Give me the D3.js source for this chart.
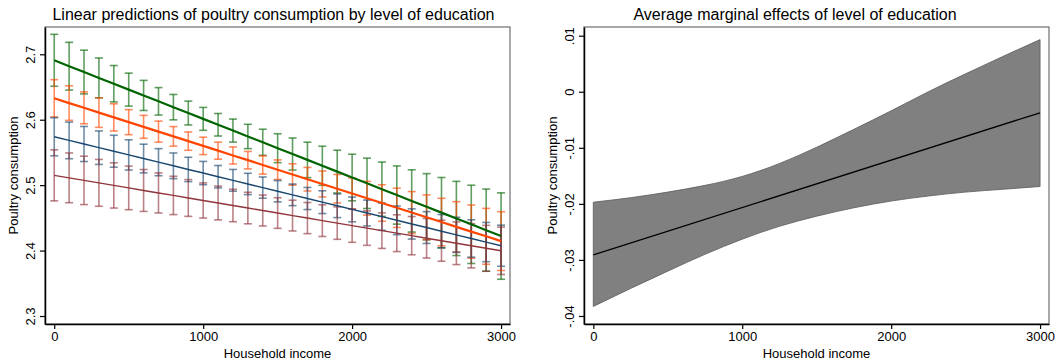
<!DOCTYPE html>
<html>
<head>
<meta charset="utf-8">
<script src="https://cdn.jsdelivr.net/npm/d3@7"></script>
<style>
  body { margin: 0; background: #fff; }
  text { font-family: "Liberation Sans", Arial, Helvetica, sans-serif; fill: #000; }
</style>
</head>
<body>
<div id="chart"></div>
<script>
// x values (household income) where margins were evaluated
let income = [0, 100, 200, 300, 400, 500, 600, 700, 800, 900, 1000, 1100, 1200, 1300, 1400, 1500,
  1600, 1700, 1800, 1900, 2000, 2100, 2200, 2300, 2400, 2500, 2600, 2700, 2800, 2900, 3000];

// linear predictions per education level
let predGreen = [2.6908, 2.6818, 2.6729, 2.6639, 2.6550, 2.6460, 2.6371, 2.6281, 2.6192, 2.6102, 2.6013,
  2.5923, 2.5834, 2.5744, 2.5655, 2.5565, 2.5476, 2.5386, 2.5296, 2.5207, 2.5117, 2.5028, 2.4938,
  2.4849, 2.4759, 2.4670, 2.4580, 2.4491, 2.4401, 2.4312, 2.4222];
let predOrange = [2.6327, 2.6254, 2.6182, 2.6109, 2.6036, 2.5963, 2.5891, 2.5818, 2.5745, 2.5673, 2.5600,
  2.5527, 2.5454, 2.5382, 2.5309, 2.5236, 2.5163, 2.5091, 2.5018, 2.4945, 2.4872, 2.4800, 2.4727,
  2.4654, 2.4581, 2.4509, 2.4436, 2.4363, 2.4290, 2.4218, 2.4145];
let predBlue = [2.5740, 2.5684, 2.5629, 2.5573, 2.5518, 2.5462, 2.5407, 2.5351, 2.5296, 2.5240, 2.5185,
  2.5129, 2.5074, 2.5018, 2.4963, 2.4907, 2.4852, 2.4796, 2.4740, 2.4685, 2.4629, 2.4574, 2.4518,
  2.4463, 2.4407, 2.4352, 2.4296, 2.4241, 2.4185, 2.4130, 2.4074];
let predRed = [2.5150, 2.5112, 2.5073, 2.5035, 2.4996, 2.4958, 2.4919, 2.4881, 2.4843, 2.4804, 2.4766,
  2.4727, 2.4689, 2.4650, 2.4612, 2.4574, 2.4535, 2.4497, 2.4458, 2.4420, 2.4381, 2.4343, 2.4305,
  2.4266, 2.4228, 2.4189, 2.4151, 2.4112, 2.4074, 2.4035, 2.3997];

// half width of the 95% CI at each point
let ciGreen = [0.0397, 0.0365, 0.0334, 0.0305, 0.0278, 0.0252, 0.0230, 0.0210, 0.0194, 0.0182, 0.0175,
  0.0172, 0.0176, 0.0186, 0.0200, 0.0221, 0.0245, 0.0271, 0.0299, 0.0327, 0.0356, 0.0385, 0.0415,
  0.0445, 0.0476, 0.0506, 0.0537, 0.0567, 0.0598, 0.0628, 0.0660];
let ciOrange = [0.0285, 0.0264, 0.0244, 0.0226, 0.0208, 0.0191, 0.0175, 0.0161, 0.0150, 0.0140, 0.0133,
  0.0130, 0.0130, 0.0133, 0.0140, 0.0150, 0.0164, 0.0180, 0.0198, 0.0218, 0.0238, 0.0258, 0.0279,
  0.0300, 0.0321, 0.0342, 0.0363, 0.0385, 0.0406, 0.0427, 0.0449];
let ciBlue = [0.0291, 0.0280, 0.0268, 0.0256, 0.0244, 0.0231, 0.0219, 0.0207, 0.0196, 0.0186, 0.0178,
  0.0171, 0.0166, 0.0163, 0.0162, 0.0163, 0.0165, 0.0169, 0.0174, 0.0181, 0.0189, 0.0198, 0.0208,
  0.0219, 0.0231, 0.0243, 0.0255, 0.0268, 0.0286, 0.0300, 0.0314];
let ciRed = [0.0390, 0.0380, 0.0370, 0.0358, 0.0346, 0.0333, 0.0320, 0.0306, 0.0293, 0.0281, 0.0269,
  0.0258, 0.0248, 0.0241, 0.0236, 0.0234, 0.0235, 0.0238, 0.0242, 0.0248, 0.0255, 0.0263, 0.0272,
  0.0281, 0.0292, 0.0303, 0.0314, 0.0326, 0.0338, 0.0350, 0.0362];

// average marginal effect (right panel)
let ameIncome = [0, 250, 500, 750, 1000, 1250, 1500, 1750, 2000, 2250, 2500, 2750, 3000];
let ameUpper = [-0.0197, -0.0189, -0.0179, -0.0167, -0.0151, -0.0128, -0.0099, -0.0067, -0.0034, 0.0000, 0.0032, 0.0063, 0.0093];
let ameLower = [-0.0383, -0.0351, -0.0320, -0.0290, -0.0263, -0.0240, -0.0222, -0.0207, -0.0195, -0.0186, -0.0179, -0.0174, -0.0169];
let ameLineX = [0, 3000];
let ameLineY = [-0.0291, -0.00375];

// ticks
let xTicks = [0, 1000, 2000, 3000];
let leftYTicks = [2.3, 2.4, 2.5, 2.6, 2.7];
let leftYLabels = ["2.3", "2.4", "2.5", "2.6", "2.7"];
let rightYTicks = [-0.04, -0.03, -0.02, -0.01, 0, 0.01];
let rightYLabels = ["-.04", "-.03", "-.02", "-.01", "0", ".01"];

let svg = d3.select("#chart").append("svg")
  .attr("width", 1058)
  .attr("height", 362);

svg.append("rect").attr("width", 1058).attr("height", 362).attr("fill", "#fff");

// draws frame, axes and titles for one panel
function panel(x, y, yTicks, yLabels, title, titleX) {
  let x0 = x.range()[0], x1 = x.range()[1];
  let y0 = y.range()[0], y1 = y.range()[1];

  svg.append("rect")
    .attr("x", x0).attr("y", y1)
    .attr("width", x1 - x0).attr("height", y0 - y1)
    .attr("fill", "none").attr("stroke", "#6e6e6e").attr("stroke-width", 1.2);

  let gx = svg.append("g")
    .attr("transform", "translate(0," + y0 + ")")
    .call(d3.axisBottom(x).tickValues(xTicks).tickSize(5).tickSizeOuter(0).tickFormat(d3.format("d")));
  gx.select(".domain").attr("stroke", "#000").attr("stroke-width", 1.5);
  gx.selectAll(".tick line").attr("stroke", "#000").attr("stroke-width", 1.2);
  gx.selectAll("text").attr("font-size", 13).attr("y", 8).attr("fill", "#000")
    .style("font-family", "'Liberation Sans', Arial, sans-serif");

  let gy = svg.append("g")
    .attr("transform", "translate(" + x0 + ",0)")
    .call(d3.axisLeft(y).tickValues(yTicks).tickSize(5).tickSizeOuter(0)
      .tickFormat((d, i) => yLabels[i]));
  gy.select(".domain").attr("stroke", "#000").attr("stroke-width", 1.5);
  gy.selectAll(".tick line").attr("stroke", "#000").attr("stroke-width", 1.2);
  gy.selectAll("text")
    .attr("x", null).attr("dy", null)
    .attr("text-anchor", "middle")
    .attr("transform", "translate(-10.5,0) rotate(-90)")
    .attr("font-size", 13).attr("fill", "#000")
    .style("font-family", "'Liberation Sans', Arial, sans-serif");

  svg.append("text")
    .attr("x", (x0 + x1) / 2).attr("y", 357.5)
    .attr("text-anchor", "middle").attr("font-size", 13)
    .text("Household income");

  svg.append("text")
    .attr("transform", "translate(" + (x0 - 27) + "," + ((y0 + y1) / 2) + ") rotate(-90)")
    .attr("text-anchor", "middle").attr("font-size", 13)
    .text("Poultry consumption");

  svg.append("text")
    .attr("x", titleX).attr("y", 19.5)
    .attr("text-anchor", "middle").attr("font-size", 16)
    .text(title);
}

// ---- left panel: predictions with CI bars ----
let xL = d3.scaleLinear().domain([-62, 3060]).range([45, 510]);
let yL = d3.scaleLinear().domain([2.2878, 2.7417]).range([324, 27]);

let series = [
  { pred: predGreen, ci: ciGreen, color: "#006400", lw: 2.2 },
  { pred: predOrange, ci: ciOrange, color: "#ff4500", lw: 2.2 },
  { pred: predBlue, ci: ciBlue, color: "#1a476f", lw: 1.4 },
  { pred: predRed, ci: ciRed, color: "#90353b", lw: 1.4 }
];

series.forEach(function (s) {
  let pts = income.map((v, i) => ({ x: v, lo: s.pred[i] - s.ci[i], hi: s.pred[i] + s.ci[i] }));
  let g = svg.append("g")
    .attr("stroke", s.color).attr("stroke-opacity", 0.62).attr("stroke-width", 1.6).attr("fill", "none");
  g.selectAll("line.bar").data(pts).enter().append("line")
    .attr("x1", d => xL(d.x)).attr("x2", d => xL(d.x))
    .attr("y1", d => yL(d.lo)).attr("y2", d => yL(d.hi));
  g.selectAll("line.capHi").data(pts).enter().append("line")
    .attr("x1", d => xL(d.x) - 4).attr("x2", d => xL(d.x) + 4)
    .attr("y1", d => yL(d.hi)).attr("y2", d => yL(d.hi));
  g.selectAll("line.capLo").data(pts).enter().append("line")
    .attr("x1", d => xL(d.x) - 4).attr("x2", d => xL(d.x) + 4)
    .attr("y1", d => yL(d.lo)).attr("y2", d => yL(d.lo));
});

series.forEach(function (s) {
  let line = d3.line().x((d, i) => xL(income[i])).y(d => yL(d));
  svg.append("path")
    .attr("d", line(s.pred))
    .attr("fill", "none").attr("stroke", s.color).attr("stroke-width", s.lw);
});

panel(xL, yL, leftYTicks, leftYLabels,
  "Linear predictions of poultry consumption by level of education", 273.5);

// ---- right panel: average marginal effect ----
let xR = d3.scaleLinear().domain([-62.5, 3060]).range([584, 1049]);
let yR = d3.scaleLinear().domain([-0.04143, 0.01155]).range([324, 27]);

let area = d3.area()
  .x((d, i) => xR(ameIncome[i]))
  .y0((d, i) => yR(ameLower[i]))
  .y1(d => yR(d))
  .curve(d3.curveNatural);

svg.append("path")
  .attr("d", area(ameUpper))
  .attr("fill", "#808080").attr("stroke", "#5a5a5a").attr("stroke-width", 0.8);

svg.append("path")
  .attr("d", d3.line().x((d, i) => xR(ameLineX[i])).y(d => yR(d))(ameLineY))
  .attr("fill", "none").attr("stroke", "#000").attr("stroke-width", 1.3);

panel(xR, yR, rightYTicks, rightYLabels,
  "Average marginal effects of level of education", 795);
</script>
</body>
</html>
